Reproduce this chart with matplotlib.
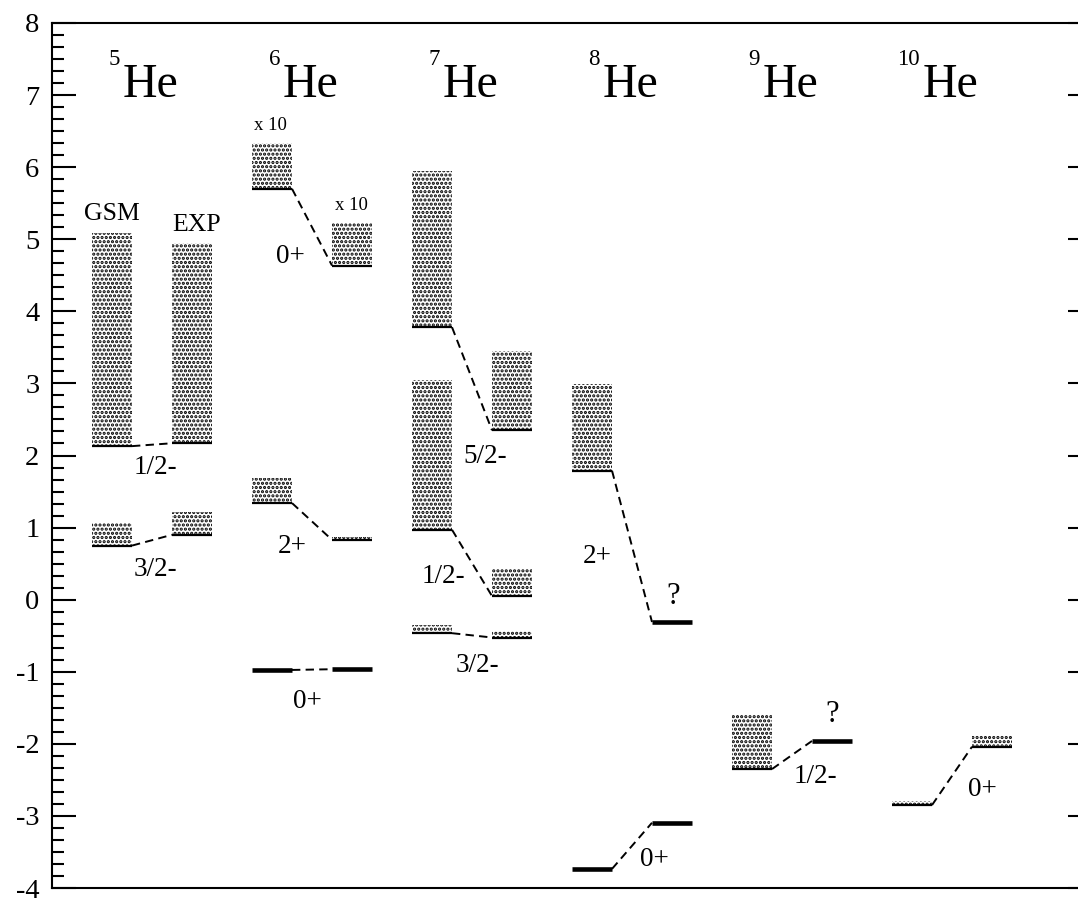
import matplotlib
matplotlib.use("Agg")
import matplotlib.pyplot as plt
from matplotlib.ticker import MultipleLocator

plt.rcParams['font.family'] = ['Liberation Serif', 'DejaVu Serif']
plt.rcParams['hatch.linewidth'] = 1.55
plt.rcParams['axes.unicode_minus'] = False

# Helium isotopes (mass numbers) shown left to right
isotopes = ['5', '6', '7', '8', '9', '10']

# Resonance data: which isotope each state belongs to, its label,
# GSM energy / width band and experimental energy / width band (MeV)
state_isotope = [0, 0, 1, 1, 1, 2, 2, 2, 3, 3, 4, 5]
state_label = ['3/2-', '1/2-', '0+', '2+', '0+', '3/2-', '1/2-', '5/2-',
               '0+', '2+', '1/2-', '0+']
gsm_energy = [0.75, 2.13, -0.975, 1.34, 5.70, -0.465, 0.97, 3.78,
              -3.735, 1.79, -2.35, -2.85]
gsm_width = [0.31, 2.95, 0.0, 0.35, 0.63, 0.115, 2.08, 2.17,
             0.0, 1.20, 0.75, 0.06]
exp_energy = [0.90, 2.17, -0.965, 0.83, 4.635, -0.525, 0.05, 2.35,
              -3.095, -0.31, -1.96, -2.04]
exp_width = [0.31, 2.78, 0.0, 0.045, 0.59, 0.085, 0.37, 1.10,
             0.0, 0.0, 0.0, 0.165]

fig = plt.figure(figsize=(10.78, 8.98), dpi=100)
W, H = 1078.0, 898.0
ax = fig.add_axes([52 / W, (H - 888) / H, 1040 / W, 865 / H])
ax.set_xlim(0, 26)
ax.set_ylim(-4, 8)

col_w = 1.0
for i, iso in enumerate(state_isotope):
    xg = 1 + 4 * iso
    xe = xg + 2
    for x0, e, w in ((xg, gsm_energy[i], gsm_width[i]),
                     (xe, exp_energy[i], exp_width[i])):
        if w > 0:
            ax.bar(x0, w, width=col_w, bottom=e, align='edge', fill=False,
                   hatch='....', edgecolor='black', linewidth=0)
            ax.hlines(e, x0, x0 + col_w, color='black', lw=1.6)
        else:
            ax.hlines(e, x0, x0 + col_w, color='black', lw=3.3)
    ax.plot([xg + col_w, xe], [gsm_energy[i], exp_energy[i]], color='black',
            lw=1.4, linestyle=(0, (4.3, 2.7)))

# Isotope titles
for k, a in enumerate(isotopes):
    ax.text(1.775 + 4 * k, 6.977, 'He', fontsize=34.5, ha='left', va='baseline')
    ax.text(1.70 + 4 * k, 7.42, a, fontsize=16.5, ha='right', va='baseline')

# Column headers and scale notes
ax.text(1.5, 5.35, 'GSM', fontsize=18.5, ha='center', va='center')
ax.text(3.625, 5.20, 'EXP', fontsize=18.5, ha='center', va='center')
ax.text(5.45, 6.575, 'x 10', fontsize=13.5, ha='center', va='center')
ax.text(7.475, 5.465, 'x 10', fontsize=13.5, ha='center', va='center')

# Spin-parity labels
label_xy = [(2.575, 0.414), (2.575, 1.83), (6.375, -1.418), (6.0, 0.733),
            (5.95, 4.757), (10.625, -0.919), (9.775, 0.316), (10.825, 1.982),
            (15.05, -3.61), (13.625, 0.594), (19.075, -2.46), (23.25, -2.64)]
for (lx, ly), lab in zip(label_xy, state_label):
    ax.text(lx, ly, lab, fontsize=19.5, ha='center', va='center')

# Unconfirmed experimental levels
ax.text(15.525, 0.039, '?', fontsize=22, ha='center', va='center')
ax.text(19.5, -1.599, '?', fontsize=22, ha='center', va='center')

# Axes styling
for s in ax.spines.values():
    s.set_linewidth(1.5)
ax.set_xticks([])
ax.yaxis.set_major_locator(MultipleLocator(1))
ax.yaxis.set_minor_locator(MultipleLocator(1 / 6))
ax.tick_params(axis='y', which='major', direction='in', length=17.5, width=1.5,
               left=True, right=True, labelsize=20.5, pad=9)
ax.tick_params(axis='y', which='minor', direction='in', length=8.7, width=1.5,
               left=True, right=False)

fig.savefig('out.png', dpi=100)
